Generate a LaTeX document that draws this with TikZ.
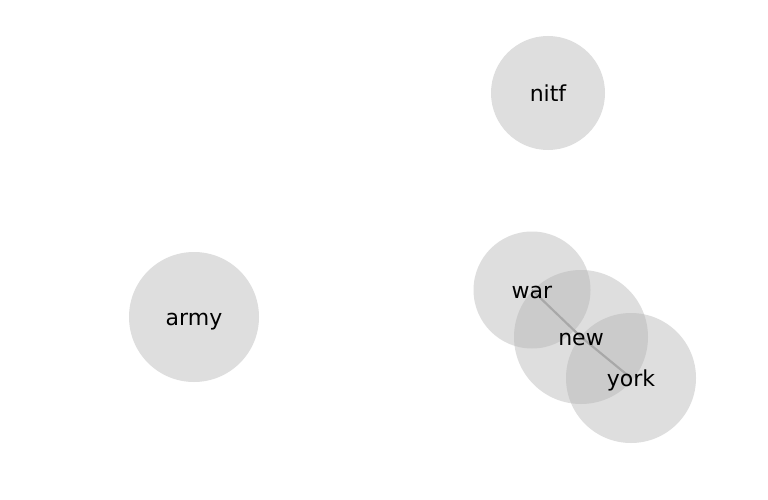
\documentclass[tikz,border=0pt]{standalone}
\usepackage{fontspec}
\setmainfont{DejaVu Sans}
\usetikzlibrary{backgrounds}
\definecolor{termgray}{RGB}{178,178,178}
\definecolor{linkgray}{RGB}{150,150,150}
\tikzset{term/.style={circle, fill=termgray, fill opacity=0.43, inner sep=0pt},
  termlabel/.style={font=\fontsize{22}{22}\selectfont, anchor=base, yshift=-8.5pt}}

\begin{document}
\begin{tikzpicture}[x=1pt, y=-1pt]
\useasboundingbox (0,0) rectangle (768,500);
% circles
\node[term, minimum size=114pt] (nitf) at (548,93) {};
\node[term, minimum size=130pt] (army) at (194,317) {};
\node[term, minimum size=117pt] (war) at (532,290) {};
\node[term, minimum size=134pt] (new) at (581,337) {};
\node[term, minimum size=130pt] (york) at (631,378) {};
% links
\begin{scope}[on background layer]
\draw[linkgray, line width=2.2pt] (war.center) -- (new.center) -- (york.center);
\end{scope}
% labels
\node[termlabel] (nitf-label) at (nitf) {nitf};
\node[termlabel] (army-label) at (army) {army};
\node[termlabel] (war-label) at (war) {war};
\node[termlabel] (new-label) at (new) {new};
\node[termlabel] (york-label) at (york) {york};
\end{tikzpicture}
\end{document}
